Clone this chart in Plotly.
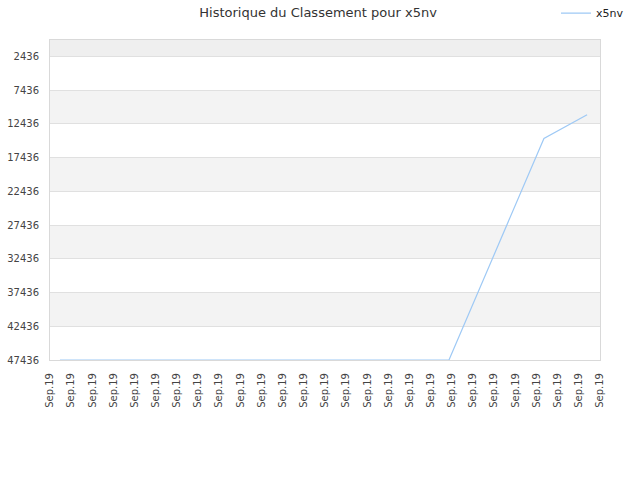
import plotly.graph_objects as go

# data
x_ticks = list(range(27))
x_labels = ["Sep.19"] * 27
pos = [0.47, 18.86, 23.35, 25.39]
rank = [47436, 47436, 14600, 11070]
y_ticks = [2436, 7436, 12436, 17436, 22436, 27436, 32436, 37436, 42436, 47436]
y_labels = [str(v) for v in y_ticks]

fig = go.Figure()
fig.add_trace(go.Scatter(x=pos, y=rank, mode="lines", name="x5nv",
                         line=dict(color="#9ec9f5", width=1.2)))

shapes = []
bounds = [0] + y_ticks
for i in range(len(bounds) - 1):
    if i % 2 == 0:
        shapes.append(dict(type="rect", xref="paper", yref="y", x0=0, x1=1,
                           y0=bounds[i], y1=bounds[i + 1],
                           fillcolor="#efefef" if i == 0 else "#f3f3f3",
                           line=dict(width=0), layer="below"))

fig.update_layout(
    width=640, height=480,
    margin=dict(l=50, r=40, t=40, b=120, autoexpand=False),
    paper_bgcolor="white", plot_bgcolor="white",
    font=dict(family="DejaVu Sans", size=10, color="#444"),
    title=dict(text="Historique du Classement pour x5nv", x=0.497, y=0.975,
               xanchor="center", yanchor="middle", font=dict(size=13, color="#333")),
    showlegend=True,
    legend=dict(x=0.92, y=1.084, xanchor="left", yanchor="middle",
                orientation="h", bgcolor="rgba(0,0,0,0)", itemwidth=30,
                font=dict(size=11, color="#222")),
    shapes=shapes,
    xaxis=dict(range=[0, 26], tickmode="array", tickvals=x_ticks, ticktext=x_labels,
               tickangle=-90, showgrid=False, zeroline=False, automargin=False,
               showline=True, linecolor="#d9d9d9", mirror=True, ticklabelstandoff=8,
               tickfont=dict(size=10, color="#444"), ticks=""),
    yaxis=dict(range=[47436, 0], tickmode="array", tickvals=y_ticks, ticktext=y_labels,
               showgrid=True, gridcolor="#e0e0e0", zeroline=False, automargin=False,
               showline=True, linecolor="#d9d9d9", mirror=True, ticklabelstandoff=8,
               tickfont=dict(size=10, color="#444"), ticks=""),
)
fig.write_html("out.html", config={"displayModeBar": False},
               post_script="document.body.style.margin='0';")
